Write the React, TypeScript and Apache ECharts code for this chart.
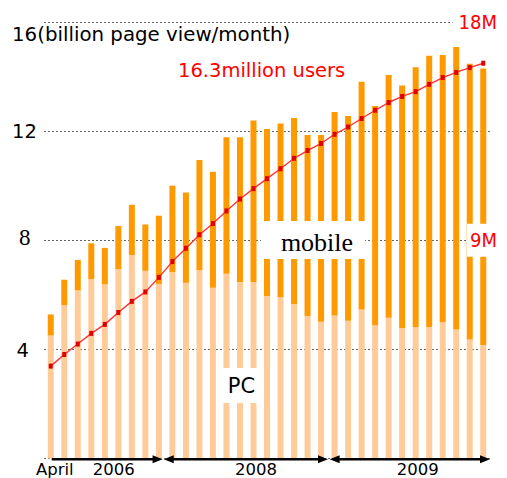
import React, { useEffect, useRef } from "react";
import * as echarts from "echarts";

const categories = [
  "2006-04", "2006-05", "2006-06", "2006-07", "2006-08", "2006-09", "2006-10", "2006-11", "2006-12",
  "2007-01", "2007-02", "2007-03", "2007-04", "2007-05", "2007-06", "2007-07", "2007-08", "2007-09",
  "2007-10", "2007-11", "2007-12",
  "2008-01", "2008-02", "2008-03", "2008-04", "2008-05", "2008-06", "2008-07", "2008-08", "2008-09",
  "2008-10", "2008-11", "2008-12",
];

// billion page views / month
const pcViews = [
  4.51, 5.63, 6.16, 6.58, 6.38, 6.94, 7.46, 6.88, 6.4,
  6.83, 6.44, 6.9, 6.26, 6.77, 6.47, 6.47, 5.96, 5.92, 5.66, 5.22, 5.01,
  5.24, 5.05, 5.46, 4.88, 5.16, 4.78, 4.82, 4.82, 4.99, 4.73, 4.36, 4.16,
];
const mobileViews = [
  0.77, 0.92, 1.12, 1.31, 1.34, 1.58, 1.84, 1.7, 2.5,
  3.17, 3.31, 4.04, 4.25, 5.01, 5.31, 5.92, 6.12, 6.36, 6.82, 6.64, 6.85,
  7.46, 7.5, 8.35, 8.04, 8.9, 8.89, 9.52, 9.94, 9.8, 10.35, 10.11, 10.14,
];
// million users
const users = [
  3.81, 4.29, 4.72, 5.16, 5.53, 6.02, 6.48, 6.87, 7.47,
  8.12, 8.67, 9.23, 9.69, 10.21, 10.7, 11.13, 11.54, 11.95, 12.38, 12.7, 12.99,
  13.37, 13.67, 14.02, 14.36, 14.68, 14.93, 15.13, 15.43, 15.71, 15.92, 16.12, 16.3,
];

const leftTickValues = [4, 8, 12, 16];
const leftTickLabels = ["4", "8", "12", "16(billion page view/month)"];
const rightTickValues = [9, 18];
const rightTickLabels = ["9M", "18M"];
const xTickIndices = [0, 5, 15, 27];
const xTickLabels = ["April", "2006", "2008", "2009"];
const yearBreaks = [8, 20]; // last month index of each arrowed period

const SANS = "'DejaVu Sans', Verdana, sans-serif";
const SERIF = "'Liberation Serif', 'Times New Roman', serif";
const NARROW = "'DejaVu Sans Condensed', 'DejaVu Sans', sans-serif";

export default function App() {
  const ref = useRef<HTMLDivElement>(null);
  useEffect(() => {
    document.body.style.margin = "0";
    const chart = echarts.init(ref.current!, undefined, { renderer: "svg" });
    const option: any = {
      animation: false,
      grid: { left: 44, right: 17, top: 21, bottom: 17.3 },
      xAxis: {
        type: "category",
        data: categories,
        axisLine: { show: false },
        axisTick: { show: false },
        axisLabel: {
          interval: 0,
          margin: 2,
          hideOverlap: false,
          formatter: (_v: string, i: number) => {
            const k = xTickIndices.indexOf(i);
            return k < 0 ? "" : `{x${k}|${xTickLabels[k]}}`;
          },
          rich: {
            x0: { fontFamily: SANS, fontSize: 16.5, color: "#000", lineHeight: 18, padding: [0, 0, 0, 8] },
            x1: { fontFamily: SANS, fontSize: 16.5, color: "#000", lineHeight: 18, padding: [0, 9.4, 0, 0] },
            x2: { fontFamily: SANS, fontSize: 16.5, color: "#000", lineHeight: 18, padding: [0, 0, 0, 5] },
            x3: { fontFamily: SANS, fontSize: 16.5, color: "#000", lineHeight: 18, padding: [0, 0, 0, 4] },
          },
        },
      },
      yAxis: [
        {
          type: "value",
          min: 0,
          max: 16,
          interval: 4,
          axisLine: { show: false },
          axisTick: { show: false },
          splitLine: { lineStyle: { type: [2, 2], color: "#666", width: 1 } },
          axisLabel: {
            align: "left",
            margin: 32,
            formatter: (v: number) => {
              const k = leftTickValues.indexOf(v);
              return k < 0 ? "" : `{t${v}|${leftTickLabels[k]}}`;
            },
            rich: {
              t16: { fontFamily: SANS, fontSize: 19.8, color: "#000", lineHeight: 22, padding: [24, 0, 0, 0] },
              t12: { fontFamily: SANS, fontSize: 19.5, color: "#000", lineHeight: 22 },
              t8: { fontFamily: SERIF, fontSize: 23, color: "#000", lineHeight: 24, padding: [0, 0, 5, 7] },
              t4: { fontFamily: SANS, fontSize: 19.5, color: "#000", lineHeight: 22, padding: [2.6, 0, 0, 4.5] },
            },
          },
        },
        {
          type: "value",
          min: 0,
          max: 18,
          interval: 9,
          position: "right",
          z: 10,
          axisLine: { show: false },
          axisTick: { show: false },
          splitLine: { show: false },
          axisLabel: {
            align: "right",
            margin: 8,
            formatter: (v: number) => {
              const k = rightTickValues.indexOf(v);
              return k < 0 ? "" : `{r${v}|${rightTickLabels[k]}}`;
            },
            rich: {
              r18: {
                fontFamily: NARROW, fontSize: 20, color: "#FF0000", lineHeight: 22,
                backgroundColor: "#fff", padding: [2, 1, 2, 6],
              },
              r9: {
                fontFamily: NARROW, fontSize: 20, color: "#FF0000", lineHeight: 22,
                backgroundColor: "#fff", padding: [6.5, 1, 6.5, 3],
              },
            },
          },
        },
      ],
      series: [
        {
          name: "PC",
          type: "bar",
          stack: "views",
          data: pcViews,
          barWidth: 6,
          itemStyle: { color: "#FFCC99" },
        },
        {
          name: "mobile",
          type: "bar",
          stack: "views",
          data: mobileViews,
          barWidth: 6,
          itemStyle: { color: "#FF9900" },
        },
        {
          name: "users",
          type: "line",
          yAxisIndex: 1,
          data: users,
          symbol: "rect",
          symbolSize: [4, 5],
          showAllSymbol: true,
          lineStyle: { color: "#FF3333", width: 1.4 },
          itemStyle: { color: "#E00000" },
          z: 5,
        },
      ],
    };
    chart.setOption(option);

    // arrows under the axis, positioned from the category scale
    const px = (i: number) => chart.convertToPixel({ xAxisIndex: 0 }, i) as number;
    const y = (chart.convertToPixel({ yAxisIndex: 0 }, 0) as number) + 0.8;
    const half = (px(1) - px(0)) / 2;
    const b1 = (px(yearBreaks[0]) + px(yearBreaks[0] + 1)) / 2 - 2.5;
    const b2 = (px(yearBreaks[1]) + px(yearBreaks[1] + 1)) / 2 + 1;
    const segs = [
      { a: px(0) + 1, b: b1 - 0.6, headA: false },
      { a: b1 + 0.6, b: b2 - 0.8, headA: true },
      { a: b2 + 0.8, b: px(categories.length - 1) + half, headA: true },
    ];
    const L = 10, H = 4;
    const arrowEls: any[] = [];
    segs.forEach((s) => {
      arrowEls.push({
        type: "line",
        shape: { x1: s.headA ? s.a + L - 1 : s.a, y1: y, x2: s.b - L + 1, y2: y },
        style: { stroke: "#000", lineWidth: 2.6 },
        z: 20,
      });
      arrowEls.push({
        type: "polygon",
        shape: { points: [[s.b, y], [s.b - L, y - H], [s.b - L, y + H]] },
        style: { fill: "#000" },
        z: 20,
      });
      if (s.headA) {
        arrowEls.push({
          type: "polygon",
          shape: { points: [[s.a, y], [s.a + L, y - H], [s.a + L, y + H]] },
          style: { fill: "#000" },
          z: 20,
        });
      }
    });

    chart.setOption({
      graphic: [
        ...arrowEls,
        { type: "rect", shape: { x: 261, y: 221, width: 104, height: 38 }, style: { fill: "#fff" }, z: 30 },
        {
          type: "text", x: 317, y: 242.5, z: 31,
          style: { text: "mobile", fill: "#000", font: `26px ${SERIF}`, align: "center", verticalAlign: "middle", textAlign: "center", textVerticalAlign: "middle" },
        },
        { type: "rect", shape: { x: 219, y: 368, width: 41, height: 35 }, style: { fill: "#fff" }, z: 30 },
        {
          type: "text", x: 241.4, y: 385.5, z: 31,
          style: { text: "PC", fill: "#000", font: `21px ${SANS}`, align: "center", verticalAlign: "middle", textAlign: "center", textVerticalAlign: "middle" },
        },
        {
          type: "text", x: 178, y: 70, z: 31,
          style: { text: "16.3million users", fill: "#FF0000", font: `19.5px ${SANS}`, align: "left", verticalAlign: "middle", textAlign: "left", textVerticalAlign: "middle" },
        },
      ],
    });

    return () => chart.dispose();
  }, []);
  return <div ref={ref} style={{ width: 507, height: 478 }} />;
}
